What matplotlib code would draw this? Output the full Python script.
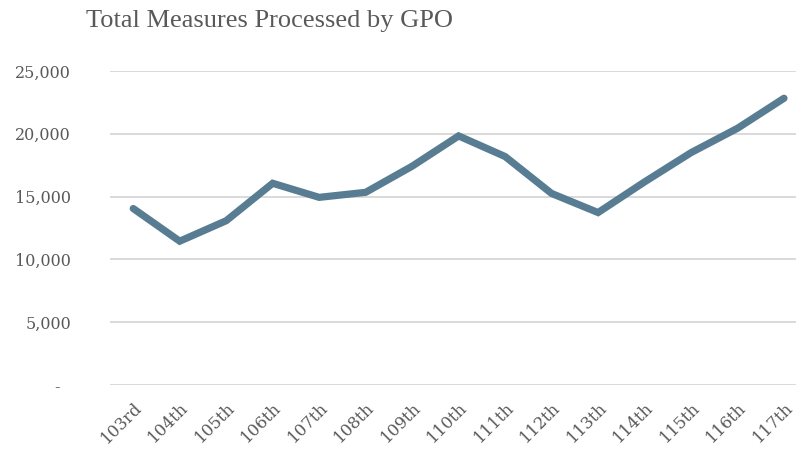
import numpy as np
import matplotlib
matplotlib.use("Agg")
import matplotlib.pyplot as plt
from matplotlib.ticker import FuncFormatter

# ---------------------------------------------------------
# DATA
# ---------------------------------------------------------
congresses = ["103rd", "104th", "105th", "106th", "107th", "108th", "109th", "110th",
              "111th", "112th", "113th", "114th", "115th", "116th", "117th"]
measures = [14050, 11450, 13080, 16060, 14940, 15340, 17420, 19830,
            18190, 15250, 13730, 16170, 18500, 20440, 22830]
y_ticks = [0, 5000, 10000, 15000, 20000, 25000]

# ---------------------------------------------------------
# STYLE
# ---------------------------------------------------------
plt.rcParams["font.family"] = ["DejaVu Serif"]
text_grey = "#595959"
line_col = "#587d93"

fig = plt.figure(figsize=(7.96, 4.66), dpi=100)
ax = fig.add_axes([110 / 796, 81 / 466, 686 / 796, 314 / 466])

x = np.arange(len(congresses))
ax.plot(x, measures, color=line_col, linewidth=5.2, solid_capstyle="round",
        solid_joinstyle="miter", zorder=3)

ax.set_ylim(0, 25000)
ax.set_xlim(-0.5, len(congresses) - 1 + 12 / 46.5)
ax.set_yticks(y_ticks)
ax.yaxis.set_major_formatter(FuncFormatter(lambda v, p: "-  " if v == 0 else f"{int(v):,}"))
ax.grid(axis="y", color="#d9d9d9", linewidth=1.4, zorder=0)
ax.set_axisbelow(True)

ax.set_xticks(x)
ax.set_xticklabels(congresses, rotation=45, ha="right", va="top", rotation_mode="anchor")
ax.tick_params(axis="both", length=0, colors=text_grey, labelsize=11.5)
ax.tick_params(axis="y", pad=28)
ax.tick_params(axis="x", pad=10, labelsize=12)

for s in ax.spines.values():
    s.set_visible(False)

fig.text(270 / 796, 1 - 21 / 466, "Total Measures Processed by GPO", ha="center", va="center",
         fontsize=19, color=text_grey, family="Liberation Serif")

fig.savefig("out.png", dpi=100)
